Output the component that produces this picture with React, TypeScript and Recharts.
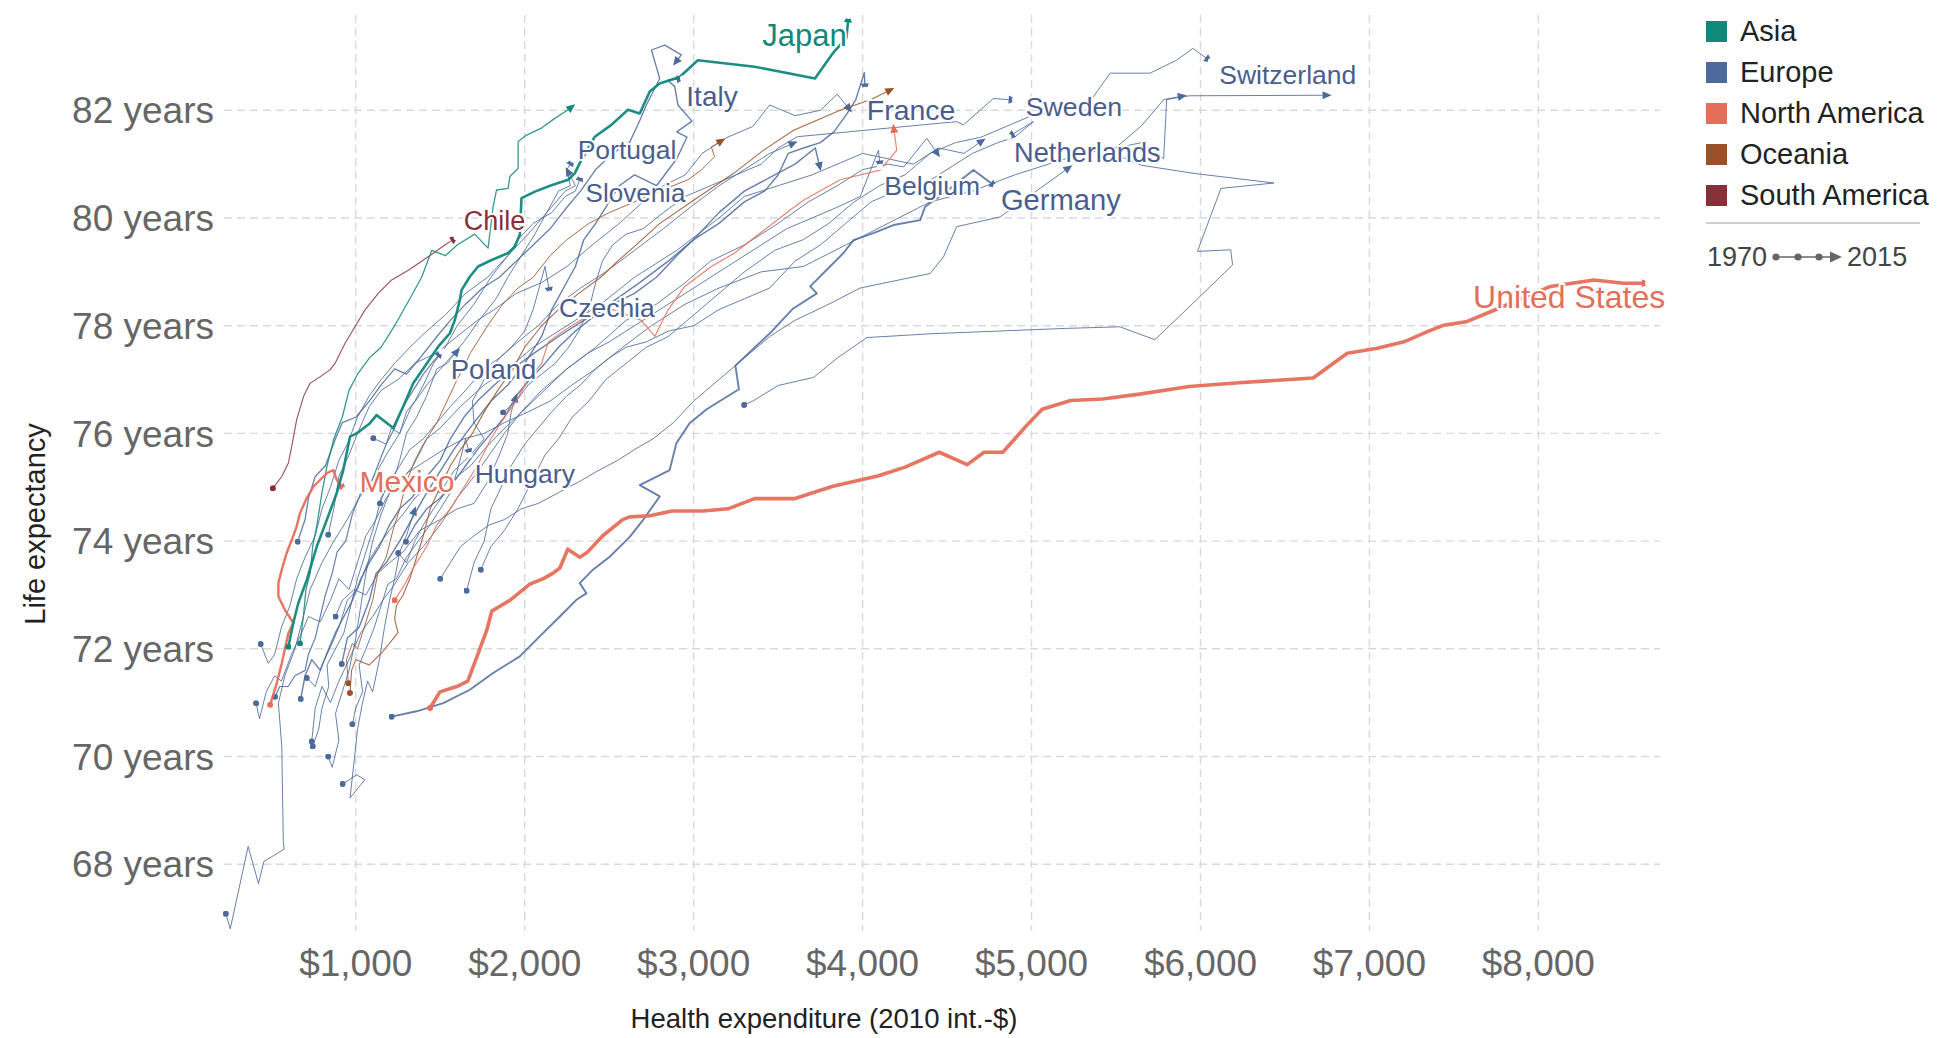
import React from "react";
import { LineChart, Line, XAxis, YAxis, CartesianGrid } from "recharts";

type Pair = [number, number];

const continents = ["Asia", "Europe", "North America", "Oceania", "South America"];
const xTicks = [1000, 2000, 3000, 4000, 5000, 6000, 7000, 8000];
const yTicks = [68, 70, 72, 74, 76, 78, 80, 82];
const xDomain: [number, number] = [220, 8720];
const yDomain: [number, number] = [66.76, 83.77];

// [health expenditure (2010 int.-$), life expectancy], first year to last year
const unitedStates: Pair[] = [[1440,70.9],[1498,71.2],[1598,71.3],[1663,71.4],[1717,71.85],[1776,72.35],[1805,72.7],[1912,72.9],[2030,73.2],[2107,73.3],[2166,73.4],[2208,73.5],[2255,73.85],[2326,73.7],[2373,73.8],[2462,74.1],[2580,74.4],[2622,74.45],[2740,74.47],[2872,74.56],[3057,74.56],[3203,74.6],[3361,74.79],[3600,74.79],[3824,75.02],[4089,75.21],[4248,75.37],[4454,75.65],[4619,75.42],[4719,75.65],[4830,75.65],[4969,76.14],[5063,76.45],[5232,76.61],[5420,76.64],[5640,76.73],[5933,76.87],[6227,76.94],[6667,77.03],[6869,77.49],[7047,77.58],[7205,77.7],[7343,77.89],[7441,78.01],[7579,78.08],[7717,78.26],[8072,78.73],[8328,78.85],[8505,78.79],[8650,78.79]];
const mexico: Pair[] = [[493,70.96],[532,71.36],[562,71.73],[601,72.29],[630,72.48],[581,72.72],[542,72.97],[542,73.22],[562,73.47],[591,73.78],[621,74.02],[650,74.27],[670,74.52],[710,74.8],[749,75.01],[828,75.26],[867,75.32],[887,75.14],[917,75.01],[936,74.95]];
const canada: Pair[] = [[1230,72.9],[1290,73.2],[1340,73.5],[1420,73.9],[1480,74.3],[1560,74.6],[1640,75.0],[1720,75.4],[1800,75.9],[1880,76.3],[1950,76.6],[2020,77.0],[2100,77.3],[2140,77.7],[2230,77.9],[2330,78.1],[2420,78.2],[2520,78.3],[2690,78.1],[2770,77.8],[2850,78.3],[2947,78.73],[3105,79.1],[3242,79.35],[3394,79.72],[3572,80.15],[3650,80.33],[3867,80.71],[4104,80.89],[4202,81.26],[4183,81.7]];
const japan: Pair[] = [[601,72.04],[630,72.48],[660,72.85],[710,73.28],[769,73.9],[828,74.39],[887,74.89],[926,75.32],[966,75.94],[1005,76.0],[1084,76.19],[1123,76.34],[1222,76.1],[1281,76.5],[1340,76.93],[1399,77.2],[1488,77.61],[1557,77.86],[1587,78.11],[1616,78.48],[1626,78.66],[1675,78.91],[1724,79.1],[1804,79.22],[1902,79.35],[1941,79.47],[1971,79.69],[1981,80.37],[2060,80.49],[2158,80.61],[2257,80.71],[2296,80.83],[2326,81.02],[2415,81.51],[2513,81.73],[2611,82.01],[2681,81.94],[2740,82.35],[2799,82.5],[2917,82.62],[3025,82.93],[3361,82.81],[3718,82.59],[3824,83.06],[3904,83.34],[3917,83.75]];
const korea: Pair[] = [[670,72.1],[690,72.6],[705,73.1],[730,73.4],[745,73.9],[770,74.3],[800,74.9],[830,75.4],[870,75.9],[920,76.3],[960,76.8],[1010,77.1],[1080,77.4],[1150,77.6],[1230,78.0],[1320,78.5],[1390,78.9],[1450,79.4],[1530,79.3],[1600,79.5],[1704,79.7],[1783,79.44],[1813,80.21],[1833,80.52],[1902,80.55],[1912,80.77],[1961,80.92],[1961,81.42],[2011,81.54],[2099,81.67],[2178,81.85],[2257,82.01],[2286,82.08]];
const chile: Pair[] = [[509,74.98],[562,75.2],[601,75.45],[621,75.76],[650,76.25],[690,76.68],[729,76.93],[788,77.05],[847,77.18],[877,77.3],[936,77.67],[995,77.98],[1054,78.29],[1133,78.6],[1212,78.85],[1311,79.03],[1429,79.28],[1527,79.5],[1597,79.64]];
const australia: Pair[] = [[966,71.18],[975,71.6],[1000,71.8],[1080,71.7],[1160,71.95],[1250,72.3],[1230,72.55],[1240,72.8],[1280,73.0],[1320,73.3],[1360,73.7],[1400,74.1],[1440,74.6],[1500,75.0],[1560,75.4],[1620,75.7],[1690,76.0],[1760,76.4],[1840,76.8],[1930,77.2],[2000,77.6],[2100,78.0],[2200,78.3],[2320,78.6],[2450,78.9],[2550,79.2],[2660,79.5],[2800,79.9],[3000,80.33],[3237,80.83],[3414,81.26],[3592,81.63],[3867,82.0],[4050,82.2],[4173,82.39]];
const newZealand: Pair[] = [[956,71.36],[945,71.8],[980,72.1],[1010,72.0],[1050,72.4],[1100,72.9],[1130,73.4],[1180,73.7],[1220,74.2],[1260,74.6],[1300,75.1],[1350,75.5],[1400,75.8],[1480,76.2],[1540,76.6],[1600,77.0],[1680,77.5],[1780,78.0],[1870,78.4],[1960,78.7],[2050,78.9],[2150,79.3],[2250,79.6],[2380,79.9],[2500,80.1],[2650,80.3],[2800,80.5],[2966,80.71],[3045,80.89],[3124,81.14],[3105,81.32],[3173,81.45]];
const portugal: Pair[] = [[231,67.08],[257,66.8],[363,68.33],[424,67.64],[456,68.05],[576,68.28],[571,68.42],[562,70.19],[542,70.99],[580,71.5],[640,72.0],[690,72.6],[730,73.1],[800,73.6],[870,74.0],[950,74.4],[1020,74.8],[1110,75.2],[1180,75.6],[1260,76.0],[1330,76.5],[1420,76.9],[1530,77.3],[1640,77.7],[1730,78.1],[1830,78.5],[1900,78.9],[1980,79.3],[2060,79.7],[2130,80.1],[2200,80.5],[2270,80.6],[2250,80.9],[2286,81.08]];
const spain: Pair[] = [[656,73.99],[700,74.4],[720,74.8],[760,75.2],[820,75.4],[880,75.9],[920,76.2],[1000,76.3],[1080,76.6],[1150,76.9],[1230,77.2],[1300,77.1],[1380,77.4],[1480,77.8],[1560,78.1],[1650,78.4],[1750,78.7],[1850,78.9],[1950,79.2],[2050,79.5],[2150,79.8],[2250,80.2],[2330,80.5],[2420,80.9],[2520,81.2],[2620,81.4],[2680,81.8],[2720,82.1],[2799,82.59],[2750,83.12],[2829,83.21],[2927,83.03],[2888,82.87]];
const italy: Pair[] = [[917,71.72],[950,72.2],[1020,72.4],[1080,72.9],[1120,73.4],[1180,73.6],[1260,74.0],[1330,74.4],[1420,74.9],[1500,75.3],[1580,75.7],[1700,76.2],[1800,76.6],[1900,76.9],[2000,77.3],[2100,77.8],[2160,78.3],[2230,78.7],[2300,79.1],[2350,79.6],[2420,79.9],[2500,80.3],[2560,80.6],[2650,80.8],[2780,80.6],[2900,81.1],[2960,81.5],[2900,81.6],[2990,81.8],[2907,82.1],[2888,82.44],[2848,82.56],[2937,82.59]];
const greece: Pair[] = [[437,72.09],[482,71.73],[520,71.9],[560,72.4],[610,72.8],[650,73.3],[700,73.7],[760,74.1],[800,74.6],[850,75.0],[900,75.5],[950,75.8],[1010,76.3],[1080,76.7],[1150,77.0],[1230,77.3],[1320,77.6],[1420,77.9],[1530,78.2],[1650,78.6],[1780,78.9],[1900,79.3],[2020,79.7],[2130,80.1],[2240,80.5],[2300,80.6],[2250,80.9]];
const slovenia: Pair[] = [[1104,75.91],[1180,75.8],[1210,76.1],[1260,76.0],[1300,76.4],[1350,76.6],[1400,76.9],[1460,77.3],[1530,77.6],[1600,78.0],[1700,78.4],[1800,78.9],[1900,79.3],[1960,79.6],[2050,79.9],[2160,80.1],[2240,80.4],[2300,80.5],[2336,80.8]];
const czechia: Pair[] = [[745,70.19],[780,70.5],[800,70.9],[840,71.3],[830,71.7],[880,72.0],[930,72.3],[970,72.8],[1010,73.3],[1060,73.8],[1110,74.3],[1150,74.8],[1200,75.1],[1260,75.4],[1320,75.7],[1400,75.9],[1480,76.2],[1560,76.5],[1650,76.8],[1760,77.2],[1850,77.4],[1920,77.6],[2000,77.9],[2050,78.3],[2120,79.1],[2149,78.6]];
const poland: Pair[] = [[522,71.11],[550,71.3],[600,71.3],[640,71.5],[700,71.6],[720,71.9],[760,72.2],[790,72.6],[820,73.0],[860,73.4],[890,73.8],[940,74.0],[980,74.5],[1030,74.9],[1080,75.0],[1130,75.4],[1180,75.8],[1230,76.1],[1280,76.5],[1340,76.8],[1400,77.1],[1450,77.3],[1508,77.52]];
const hungary: Pair[] = [[980,70.6],[1000,70.9],[1040,71.2],[1020,71.7],[1060,72.0],[1110,72.4],[1150,72.8],[1190,73.2],[1240,73.3],[1300,73.7],[1370,74.0],[1440,74.3],[1500,74.6],[1560,74.9],[1600,75.3],[1650,75.9],[1675,75.6]];
const slovakia: Pair[] = [[880,72.6],[920,72.9],[990,73.1],[1060,73.0],[1130,73.4],[1200,73.6],[1280,73.8],[1380,74.2],[1500,74.4],[1600,74.6],[1700,74.7],[1780,75.1],[1850,75.6],[1900,76.0],[1920,76.4],[1950,76.7]];
const estonia: Pair[] = [[837,70.0],[860,69.8],[900,70.3],[880,70.8],[920,71.2],[960,71.6],[1000,72.2],[1030,72.8],[1060,73.4],[1100,74.0],[1150,74.5],[1200,74.9],[1260,75.5],[1300,76.0],[1360,76.3],[1420,76.7],[1480,77.2],[1540,77.3],[1606,77.55]];
const latvia: Pair[] = [[922,69.49],[1005,69.66],[1054,69.57],[966,69.23],[990,69.9],[1010,70.5],[1040,71.0],[1070,71.4],[1100,71.2],[1140,71.8],[1170,72.4],[1200,72.9],[1230,73.3],[1260,73.8],[1300,74.1],[1350,74.6]];
const austria: Pair[] = [[739,70.28],[760,70.9],[800,71.3],[850,71.0],[900,71.4],[960,71.8],[1030,72.3],[1100,72.6],[1160,72.9],[1230,73.2],[1310,73.6],[1400,73.9],[1500,74.3],[1600,74.8],[1700,75.2],[1790,75.6],[1880,76.0],[1980,76.4],[2100,76.8],[2250,77.2],[2420,77.6],[2600,78.1],[2780,78.4],[2950,78.8],[3100,79.2],[3300,79.5],[3500,79.9],[3680,80.3],[3850,80.6],[4000,80.9],[4150,81.0],[4244,80.95],[4380,81.48],[4449,81.17]];
const germany: Pair[] = [[1212,70.74],[1360,70.84],[1518,70.99],[1675,71.24],[1813,71.55],[1971,71.86],[2089,72.23],[2208,72.6],[2306,72.91],[2365,73.03],[2326,73.22],[2404,73.47],[2503,73.71],[2622,74.08],[2700,74.39],[2799,74.83],[2681,75.04],[2858,75.32],[2898,75.82],[2976,76.19],[3077,76.45],[3268,76.82],[3247,77.26],[3352,77.57],[3458,77.88],[3585,78.31],[3729,78.6],[3690,78.73],[3788,79.04],[3887,79.35],[3946,79.59],[4064,79.72],[4183,79.87],[4341,79.96],[4370,80.21],[4500,80.5],[4656,80.89],[4789,80.58]];
const france: Pair[] = [[1297,73.99],[1350,74.3],[1420,74.6],[1500,74.8],[1580,75.1],[1650,75.4],[1720,75.7],[1800,76.0],[1880,76.3],[1950,76.7],[2030,77.0],[2120,77.3],[2200,77.6],[2300,77.9],[2420,78.2],[2520,78.4],[2650,78.6],[2780,78.9],[2900,79.3],[3000,79.6],[3150,79.9],[3300,80.3],[3420,80.5],[3500,80.8],[3560,81.2],[3650,81.3],[3750,81.4],[3830,81.6],[3900,81.9],[3960,82.2],[4010,82.7],[4015,82.38]];
const belgium: Pair[] = [[1251,73.78],[1300,73.6],[1350,74.0],[1400,74.3],[1460,74.6],[1530,74.9],[1600,75.2],[1680,75.4],[1760,75.7],[1850,76.0],[1950,76.3],[2050,76.6],[2150,76.9],[2250,77.2],[2380,77.5],[2500,77.7],[2650,78.0],[2800,78.3],[2950,78.6],[3100,78.9],[3250,79.2],[3400,79.5],[3550,79.8],[3700,80.0],[3850,80.2],[3986,80.4],[4094,81.26],[4104,80.95]];
const netherlands: Pair[] = [[1656,73.08],[1700,73.6],[1760,74.0],[1800,74.6],[1860,75.0],[1920,75.4],[2000,75.8],[2080,76.1],[2160,76.4],[2250,76.7],[2330,76.9],[2420,77.2],[2500,77.4],[2600,77.6],[2720,77.7],[2850,77.9],[3000,78.0],[3150,78.3],[3300,78.5],[3450,78.7],[3600,79.2],[3750,79.5],[3900,79.9],[4050,80.3],[4200,80.5],[4350,80.6],[4500,80.9],[4650,81.2],[4800,81.4],[4900,81.5],[5011,81.79],[4863,81.51]];
const luxembourg: Pair[] = [[3299,76.53],[3350,76.6],[3500,76.89],[3710,77.04],[3850,77.4],[4025,77.78],[4400,77.85],[4800,77.9],[5200,77.95],[5523,77.98],[5730,77.74],[5950,78.4],[6190,79.13],[6179,79.41],[5982,79.38],[6121,80.55],[6435,80.65],[5957,80.83],[5651,80.98],[5466,81.22],[5650,81.71],[5783,82.2],[5903,82.27]];
const switzerland: Pair[] = [[1740,73.47],[1800,73.9],[1880,74.2],[1960,74.6],[2040,75.1],[2120,75.6],[2200,75.9],[2280,76.3],[2380,76.6],[2480,77.0],[2600,77.3],[2720,77.6],[2850,77.8],[3000,78.2],[3150,78.6],[3300,79.0],[3480,79.4],[3650,79.6],[3800,79.9],[3950,80.3],[4100,80.6],[4250,80.8],[4400,81.2],[4550,81.4],[4700,81.5],[4850,81.7],[5000,81.9],[5200,82.0],[5366,82.25],[5465,82.69],[5701,82.69],[5858,82.93],[5955,83.15],[6061,82.91]];
const denmark: Pair[] = [[1500,73.3],[1560,73.6],[1620,73.9],[1700,74.1],[1790,74.3],[1880,74.4],[1980,74.6],[2080,74.7],[2200,74.9],[2320,75.1],[2430,75.3],[2550,75.5],[2650,75.7],[2760,75.9],[2880,76.2],[3000,76.6],[3150,77.0],[3300,77.4],[3450,77.8],[3600,78.1],[3800,78.4],[3986,78.7],[4400,78.97],[4479,79.28],[4557,79.84],[4814,80.02],[5228,80.95]];
const sweden: Pair[] = [[1872,76.39],[1950,76.6],[2020,76.9],[2100,77.1],[2180,77.3],[2260,77.6],[2320,77.9],[2380,78.3],[2420,78.8],[2460,79.2],[2520,79.5],[2600,79.7],[2700,79.8],[2820,80.1],[2950,80.4],[3100,80.6],[3250,80.8],[3400,81.0],[3500,81.3],[3614,81.51],[4557,81.79],[4597,81.73],[4695,82.0],[4774,82.22],[4902,82.19]];
const norway: Pair[] = [[1143,74.7],[1180,75.0],[1240,75.1],[1320,75.3],[1420,75.5],[1520,75.7],[1640,75.9],[1760,76.0],[1880,76.2],[2020,76.4],[2150,76.6],[2280,76.9],[2420,77.2],[2580,77.6],[2750,78.0],[2950,78.4],[3150,78.7],[3400,79.0],[3650,79.1],[3900,79.5],[4150,79.9],[4400,80.3],[4650,80.5],[4900,80.8],[5100,81.0],[5300,81.2],[5500,81.3],[5650,81.4],[5782,81.1],[5800,82.2],[5933,82.27],[6760,82.28]];
const finland: Pair[] = [[710,71.46],[760,71.3],[800,71.7],[860,72.1],[900,72.4],[950,72.9],[1010,73.1],[1070,73.6],[1130,73.9],[1200,74.2],[1280,74.5],[1350,74.8],[1420,75.0],[1500,74.9],[1580,75.3],[1680,75.6],[1760,75.9],[1700,76.2],[1690,76.6],[1760,77.0],[1850,77.4],[1960,77.7],[2080,78.0],[2200,78.4],[2330,78.7],[2480,79.0],[2650,79.4],[2820,79.8],[2980,80.2],[3150,80.6],[3300,80.9],[3450,81.2],[3600,81.4]];
const iceland: Pair[] = [[837,74.12],[870,74.6],[900,75.2],[960,75.6],[1010,76.0],[1080,76.5],[1150,76.8],[1250,77.0],[1350,77.3],[1480,77.5],[1600,77.8],[1720,78.1],[1820,78.3],[1950,78.6],[2100,78.8],[2250,79.1],[2400,79.5],[2560,79.9],[2700,80.3],[2820,80.6],[2950,80.8],[3050,81.2],[3200,81.5],[3350,81.7],[3450,82.1],[3600,81.9],[3750,82.0],[3850,82.3],[3927,82.0]];
const ireland: Pair[] = [[410,70.99],[430,70.7],[470,71.2],[520,71.5],[560,71.4],[620,71.9],[680,72.3],[720,72.6],[790,72.5],[850,72.9],[900,73.3],[960,73.1],[1010,73.6],[1060,74.1],[1120,74.4],[1180,74.8],[1260,75.1],[1340,75.4],[1420,75.9],[1500,76.1],[1620,76.5],[1760,76.9],[1900,77.2],[2050,77.6],[2250,78.0],[2450,78.4],[2650,78.9],[2900,79.4],[3150,80.0],[3300,80.4],[3500,80.6],[3700,80.8],[3850,81.0],[4000,81.2],[4300,81.0],[4450,81.3],[4600,81.2],[4715,81.45]];
const unitedKingdom: Pair[] = [[674,71.07],[700,71.5],[740,71.8],[790,71.6],[840,72.0],[880,72.3],[930,72.6],[980,72.9],[1030,73.3],[1080,73.6],[1140,73.9],[1200,74.3],[1260,74.6],[1330,74.8],[1420,75.2],[1500,75.5],[1560,75.9],[1640,76.3],[1720,76.6],[1820,76.9],[1930,77.2],[2060,77.5],[2200,77.8],[2350,78.1],[2500,78.4],[2680,78.8],[2850,79.2],[3000,79.6],[3150,80.1],[3300,80.5],[3480,80.8],[3600,81.0],[3720,81.3],[3749,80.92]];

const countries = [
  { name: "Portugal", continent: "Europe", values: portugal },
  { name: "Greece", continent: "Europe", values: greece },
  { name: "Ireland", continent: "Europe", values: ireland },
  { name: "Finland", continent: "Europe", values: finland },
  { name: "Austria", continent: "Europe", values: austria },
  { name: "Czechia", continent: "Europe", values: czechia },
  { name: "Estonia", continent: "Europe", values: estonia },
  { name: "Latvia", continent: "Europe", values: latvia },
  { name: "Hungary", continent: "Europe", values: hungary },
  { name: "Slovakia", continent: "Europe", values: slovakia },
  { name: "Slovenia", continent: "Europe", values: slovenia },
  { name: "Iceland", continent: "Europe", values: iceland },
  { name: "Norway", continent: "Europe", values: norway },
  { name: "Belgium", continent: "Europe", values: belgium },
  { name: "Netherlands", continent: "Europe", values: netherlands },
  { name: "Denmark", continent: "Europe", values: denmark },
  { name: "Sweden", continent: "Europe", values: sweden },
  { name: "Switzerland", continent: "Europe", values: switzerland },
  { name: "Luxembourg", continent: "Europe", values: luxembourg },
  { name: "Poland", continent: "Europe", values: poland },
  { name: "Spain", continent: "Europe", values: spain },
  { name: "Italy", continent: "Europe", values: italy },
  { name: "United Kingdom", continent: "Europe", values: unitedKingdom },
  { name: "France", continent: "Europe", values: france },
  { name: "Germany", continent: "Europe", values: germany },
  { name: "New Zealand", continent: "Oceania", values: newZealand },
  { name: "Australia", continent: "Oceania", values: australia },
  { name: "Canada", continent: "North America", values: canada },
  { name: "Chile", continent: "South America", values: chile },
  { name: "South Korea", continent: "Asia", values: korea },
  { name: "Mexico", continent: "North America", values: mexico },
  { name: "Japan", continent: "Asia", values: japan },
  { name: "United States", continent: "North America", values: unitedStates },
];

const colors: Record<string, string> = {
  Asia: "#12877b",
  Europe: "#4c6a9c",
  "North America": "#e56e5a",
  Oceania: "#9a5129",
  "South America": "#883039",
};
const labelColors: Record<string, string> = { ...colors, Europe: "#4a5e8e" };

const widths: Record<string, number> = {
  "United States": 3.6, Japan: 2.6, Mexico: 2.4, Germany: 1.9, France: 1.4,
  "United Kingdom": 1.4, Italy: 1.4, Spain: 1.3, "South Korea": 1.3, Poland: 1.2,
  Canada: 1.2, Australia: 1.1, Chile: 1.1,
};

// label offsets (px) from each country's last point
const labels: Record<string, { dx: number; dy: number; size: number }> = {
  Japan: { dx: -44, dy: 19, size: 31 },
  "United States": { dx: -79, dy: 14, size: 32 },
  Italy: { dx: 29, dy: 18, size: 28 },
  Portugal: { dx: 54, dy: -10, size: 26.5 },
  Slovenia: { dx: 54, dy: 18, size: 26 },
  Chile: { dx: 38, dy: -16, size: 27 },
  Czechia: { dx: 57, dy: 15, size: 26.5 },
  Poland: { dx: 52, dy: 18, size: 27.5 },
  Hungary: { dx: 55, dy: 19, size: 26.5 },
  Mexico: { dx: 62, dy: -8, size: 30 },
  France: { dx: 46, dy: 20, size: 28.5 },
  Sweden: { dx: 59, dy: 7, size: 26.7 },
  Netherlands: { dx: 79, dy: 16, size: 27.2 },
  Belgium: { dx: 52, dy: 19, size: 26.5 },
  Germany: { dx: 65, dy: 13, size: 29.2 },
  Switzerland: { dx: 77, dy: 14, size: 26.5 },
};

const FONT = '"Liberation Sans", Arial, Helvetica, sans-serif';
const slug = (s: string) => s.replace(/\s+/g, "-");
const toRows = (v: Pair[]) => v.map(([x, y]) => ({ x, y }));

// grid only at the tick values, not on the plot border
const gridX = (p: any) => {
  const s = p?.xAxis?.scale;
  if (typeof s === "function") return xTicks.map((t) => s(t));
  const o = p?.offset;
  if (!o) return [];
  return xTicks.map((t) => o.left + ((t - xDomain[0]) / (xDomain[1] - xDomain[0])) * o.width);
};
const gridY = (p: any) => {
  const s = p?.yAxis?.scale;
  if (typeof s === "function") return yTicks.map((t) => s(t));
  const o = p?.offset;
  if (!o) return [];
  return yTicks.map((t) => o.top + ((yDomain[1] - t) / (yDomain[1] - yDomain[0])) * o.height);
};

export default function App() {
  return (
    <div style={{ position: "absolute", left: 0, top: 0, width: 1944, height: 1038, background: "#fff", overflow: "hidden", fontFamily: FONT }}>
      <LineChart width={1944} height={1038} margin={{ top: 15, right: 284, bottom: 47, left: 8 }}>
        <defs>
          {continents.map((c) => (
            <React.Fragment key={c}>
              <marker id={`arrow-${slug(c)}`} viewBox="0 0 10 10" refX="7" refY="5" markerWidth="10" markerHeight="9" markerUnits="userSpaceOnUse" orient="auto">
                <path d="M0,0.5 L10,5 L0,9.5 z" fill={colors[c]} />
              </marker>
              <marker id={`start-${slug(c)}`} viewBox="0 0 10 10" refX="5" refY="5" markerWidth="6" markerHeight="6" markerUnits="userSpaceOnUse">
                <circle cx="5" cy="5" r="5" fill={colors[c]} />
              </marker>
            </React.Fragment>
          ))}
        </defs>
        <CartesianGrid
          stroke="#d9d9d9"
          strokeDasharray="8 5"
          strokeWidth={1.4}
          verticalCoordinatesGenerator={gridX}
          horizontalCoordinatesGenerator={gridY}
        />
        <XAxis
          type="number"
          dataKey="x"
          domain={xDomain}
          ticks={xTicks}
          tickFormatter={(v: number) => `$${v.toLocaleString("en-US")}`}
          axisLine={false}
          tickLine={false}
          tickSize={0}
          tickMargin={19}
          height={60}
          tick={{ fill: "#666", fontSize: 37, fontFamily: FONT }}
        />
        <YAxis
          type="number"
          dataKey="y"
          domain={yDomain}
          ticks={yTicks}
          tickFormatter={(v: number) => `${v} years`}
          axisLine={false}
          tickLine={false}
          tickSize={0}
          tickMargin={10}
          width={216}
          tick={{ fill: "#666", fontSize: 37, fontFamily: FONT }}
        />
        {countries.map((c) => (
          <Line
            key={c.name}
            name={c.name}
            data={toRows(c.values)}
            dataKey="y"
            type="linear"
            stroke={colors[c.continent]}
            strokeWidth={widths[c.name] ?? 1}
            strokeOpacity={widths[c.name] && widths[c.name] > 2 ? 0.95 : 0.85}
            strokeLinejoin="round"
            markerStart={`url(#start-${slug(c.continent)})`}
            markerEnd={`url(#arrow-${slug(c.continent)})`}
            dot={false}
            activeDot={false}
            isAnimationActive={false}
          />
        ))}
        {countries
          .filter((c) => labels[c.name])
          .map((c) => {
            const cfg = labels[c.name];
            const last = c.values[c.values.length - 1];
            return (
              <Line
                key={`label-${c.name}`}
                data={toRows([last])}
                dataKey="y"
                stroke="none"
                dot={false}
                activeDot={false}
                isAnimationActive={false}
                label={(p: any) => (
                  <text
                    x={Number(p.x) + cfg.dx}
                    y={Number(p.y) + cfg.dy}
                    textAnchor="middle"
                    dominantBaseline="central"
                    fontSize={cfg.size}
                    fontFamily={FONT}
                    fill={labelColors[c.continent]}
                    stroke="#fff"
                    strokeWidth={4}
                    strokeLinejoin="round"
                    paintOrder="stroke"
                  >
                    {c.name}
                  </text>
                )}
              />
            );
          })}
        <text x={824} y={1018} textAnchor="middle" dominantBaseline="central" fontSize={27.5} fontFamily={FONT} fill="#222">
          Health expenditure (2010 int.-$)
        </text>
        <text x={35} y={524} textAnchor="middle" dominantBaseline="central" fontSize={29} fontFamily={FONT} fill="#222" transform="rotate(-90 35 524)">
          Life expectancy
        </text>
      </LineChart>

      <div style={{ position: "absolute", left: 1706, top: 10.5 }}>
        {continents.map((c) => (
          <div key={c} style={{ display: "flex", alignItems: "center", height: 41.1 }}>
            <div style={{ width: 21, height: 21, background: colors[c], marginRight: 13 }} />
            <span style={{ fontSize: 29, color: "#222", lineHeight: 1 }}>{c}</span>
          </div>
        ))}
      </div>
      <div style={{ position: "absolute", left: 1706, top: 222, width: 214, height: 2, background: "#cfcfcf" }} />
      <div style={{ position: "absolute", left: 1707, top: 239, height: 36, display: "flex", alignItems: "center", fontSize: 27, color: "#444" }}>
        <span>1970</span>
        <svg width={74} height={20} style={{ margin: "0 3px" }}>
          <line x1={6} y1={10} x2={64} y2={10} stroke="#666" strokeWidth={1.6} />
          <circle cx={6} cy={10} r={3.6} fill="#666" />
          <circle cx={28} cy={10} r={3.6} fill="#666" />
          <circle cx={49} cy={10} r={3.6} fill="#666" />
          <path d="M60,4.5 L72,10 L60,15.5 z" fill="#666" />
        </svg>
        <span>2015</span>
      </div>
    </div>
  );
}
